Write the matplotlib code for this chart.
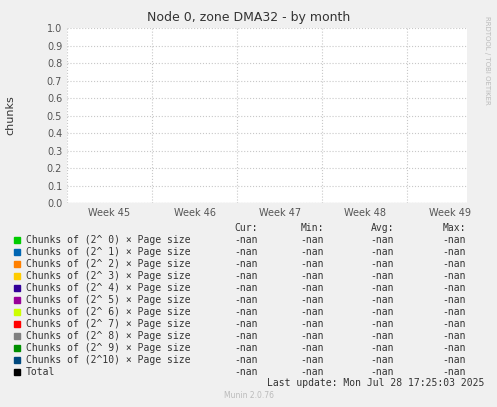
import matplotlib
matplotlib.use("Agg")
import matplotlib.pyplot as plt
import numpy as np

weeks = ["Week 45", "Week 46", "Week 47", "Week 48", "Week 49"]
week_pos = [0.5, 1.5, 2.5, 3.5, 4.5]
series = ["Chunks of (2^ 0) × Page size", "Chunks of (2^ 1) × Page size",
          "Chunks of (2^ 2) × Page size", "Chunks of (2^ 3) × Page size",
          "Chunks of (2^ 4) × Page size", "Chunks of (2^ 5) × Page size",
          "Chunks of (2^ 6) × Page size", "Chunks of (2^ 7) × Page size",
          "Chunks of (2^ 8) × Page size", "Chunks of (2^ 9) × Page size",
          "Chunks of (2^10) × Page size", "Total"]
colors = ["#00CC00", "#0066B3", "#FF8000", "#FFCC00", "#330099", "#990099",
          "#CCFF00", "#FF0000", "#808080", "#008F00", "#00487D", "#000000"]
yticks = [0.0, 0.1, 0.2, 0.3, 0.4, 0.5, 0.6, 0.7, 0.8, 0.9, 1.0]

W, H = 497, 407
fig = plt.figure(figsize=(W/100, H/100), dpi=100, facecolor="#F0F0F0")
ax = fig.add_axes([67/W, 1-203/H, 400/W, 175/H], facecolor="white")
ax.set_xlim(0, 4.7)
ax.set_ylim(0, 1.0)
ax.set_yticks(yticks)
ax.set_yticklabels([f"{v:.1f}" for v in yticks])
ax.set_xticks(week_pos)
ax.set_xticklabels(weeks)
ax.set_xticks([0, 1, 2, 3, 4], minor=True)
ax.tick_params(axis="both", labelsize=7, colors="#555555", length=0, which="both")
ax.grid(True, which="both", color="#C8C8C8", linestyle=":", linewidth=0.8)
ax.grid(False, which="major", axis="x")
for s in ax.spines.values():
    s.set_visible(False)
ax.axhline(0, color="#999999", lw=0.8)
fig.text(10/W, 1-115/H, "chunks", rotation=90, ha="center", va="center", fontsize=8, color="#333333")
fig.text(0.5, 1-18/H, "Node 0, zone DMA32 - by month", ha="center", va="center",
         fontsize=9, color="#333333")
fig.text(487/W, 1-60/H, "RRDTOOL / TOBI OETIKER", rotation=270, ha="center", va="center",
         fontsize=5, color="#BBBBBB")

mono = "DejaVu Sans Mono"
fs = 7
cols_x = [258, 324, 394, 466]
hdr = ["Cur:", "Min:", "Avg:", "Max:"]
for x, h in zip(cols_x, hdr):
    fig.text(x/W, 1-228/H, h, ha="right", va="center", fontsize=fs, family=mono, color="#333333")
for i, (name, c) in enumerate(zip(series, colors)):
    y = 240 + i*12
    fig.patches.append(plt.Rectangle((14/W, 1-(y+3)/H), 6/W, 6/H, color=c,
                                     transform=fig.transFigure, figure=fig))
    fig.text(26/W, 1-y/H, name, va="center", fontsize=fs, family=mono, color="#333333")
    for x in cols_x:
        fig.text(x/W, 1-y/H, "-nan", ha="right", va="center", fontsize=fs, family=mono, color="#333333")
fig.text(484/W, 1-383/H, "Last update: Mon Jul 28 17:25:03 2025", ha="right", va="center",
         fontsize=fs, family=mono, color="#333333")
fig.text(0.5, 1-396/H, "Munin 2.0.76", ha="center", va="center", fontsize=5.5, color="#BBBBBB")
fig.savefig("out.png", dpi=100, facecolor=fig.get_facecolor())
